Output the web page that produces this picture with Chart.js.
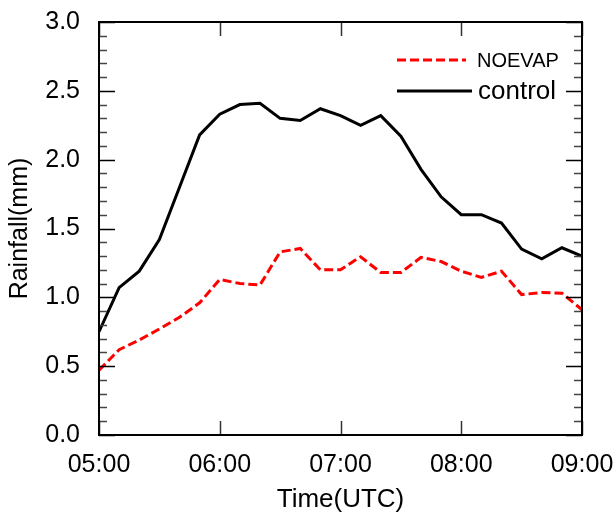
<!DOCTYPE html>
<html>
<head>
<meta charset="utf-8">
<script src="https://cdn.jsdelivr.net/npm/chart.js@4"></script>
<style>
    html, body { margin: 0; padding: 0; background: #fff; }
    #wrap { width: 616px; height: 514px; position: relative; }
</style>
</head>
<body>
<div id="wrap"><canvas id="rainChart"></canvas></div>
<script>
// Time axis (10-minute steps)
const times = ['05:00', '05:10', '05:20', '05:30', '05:40', '05:50',
               '06:00', '06:10', '06:20', '06:30', '06:40', '06:50',
               '07:00', '07:10', '07:20', '07:30', '07:40', '07:50',
               '08:00', '08:10', '08:20', '08:30', '08:40', '08:50',
               '09:00'];
const hourLabels = ['05:00', '06:00', '07:00', '08:00', '09:00'];

// Rainfall (mm)
const control = [0.75, 1.07, 1.19, 1.42, 1.80, 2.18, 2.33, 2.40, 2.41, 2.30, 2.285, 2.37, 2.32,
                 2.25, 2.32, 2.17, 1.93, 1.73, 1.60, 1.60, 1.54, 1.35, 1.28, 1.36, 1.30];
const noevap = [0.47, 0.62, 0.69, 0.77, 0.855, 0.96, 1.13, 1.10, 1.09, 1.33, 1.355, 1.20, 1.20,
                1.295, 1.18, 1.18, 1.29, 1.26, 1.19, 1.145, 1.19, 1.02, 1.035, 1.03, 0.91];

const yTicks = [0.0, 0.5, 1.0, 1.5, 2.0, 2.5, 3.0];
const FONT = "'Liberation Sans', Arial, Helvetica, sans-serif";

// Frame, inward tick marks and legend, NCL style
const framePlugin = {
    id: 'frame',
    afterDraw(chart) {
        const ctx = chart.ctx;
        const area = chart.chartArea;
        const x = chart.scales.x;
        const y = chart.scales.y;
        ctx.save();
        ctx.strokeStyle = '#000';

        // y ticks: major every 0.5, minor every 0.1, both sides
        ctx.lineWidth = 1.5;
        for (let i = 0; i <= 30; i++) {
            const v = i / 10;
            const py = Math.round(y.getPixelForValue(v)) + 0.5;
            const len = (i % 5 === 0) ? 16 : 8;
            ctx.strokeStyle = (i % 5 === 0) ? '#000' : '#444';
            ctx.beginPath();
            ctx.moveTo(area.left, py);
            ctx.lineTo(area.left + len, py);
            ctx.moveTo(area.right, py);
            ctx.lineTo(area.right - len, py);
            ctx.stroke();
        }

        // x ticks at each hour, bottom and top
        ctx.strokeStyle = '#333';
        hourLabels.forEach(h => {
            const px = Math.round(x.getPixelForValue(times.indexOf(h))) + 0.5;
            ctx.beginPath();
            ctx.moveTo(px, area.bottom);
            ctx.lineTo(px, area.bottom - 14);
            ctx.moveTo(px, area.top);
            ctx.lineTo(px, area.top + 14);
            ctx.stroke();
        });

        // frame
        ctx.strokeStyle = '#000';
        ctx.lineWidth = 2;
        ctx.strokeRect(area.left, area.top, area.right - area.left, area.bottom - area.top);

        // legend
        ctx.lineWidth = 3;
        ctx.strokeStyle = '#ff0000';
        ctx.setLineDash([9, 4]);
        ctx.beginPath();
        ctx.moveTo(397, 60);
        ctx.lineTo(466, 60);
        ctx.stroke();
        ctx.setLineDash([]);
        ctx.strokeStyle = '#000';
        ctx.beginPath();
        ctx.moveTo(397, 91);
        ctx.lineTo(472, 91);
        ctx.stroke();

        ctx.fillStyle = '#000';
        ctx.textBaseline = 'alphabetic';
        ctx.textAlign = 'left';
        ctx.font = '20px ' + FONT;
        ctx.fillText('NOEVAP', 477, 67);
        ctx.font = '26px ' + FONT;
        ctx.fillText('control', 478, 99);
        ctx.restore();
    }
};

new Chart(document.getElementById('rainChart'), {
    type: 'line',
    data: {
        labels: times,
        datasets: [{
            label: 'NOEVAP',
            data: noevap,
            borderColor: '#ff0000',
            borderWidth: 3,
            borderDash: [9, 4],
            pointRadius: 0,
            tension: 0,
            fill: false
        }, {
            label: 'control',
            data: control,
            borderColor: '#000000',
            borderWidth: 3,
            pointRadius: 0,
            tension: 0,
            fill: false
        }]
    },
    options: {
        responsive: true,
        maintainAspectRatio: false,
        animation: false,
        devicePixelRatio: 1,
        layout: { padding: { left: 0, right: 34, top: 22, bottom: 0 } },
        plugins: {
            legend: { display: false },
            tooltip: { enabled: false }
        },
        scales: {
            x: {
                type: 'category',
                offset: false,
                grid: { display: false, drawTicks: false },
                border: { display: false },
                ticks: {
                    autoSkip: false,
                    maxRotation: 0,
                    padding: 15,
                    color: '#000',
                    font: { family: FONT, size: 25 },
                    callback: function(value, index) {
                        const t = times[index];
                        return hourLabels.includes(t) ? t : '';
                    }
                },
                title: {
                    display: true,
                    text: 'Time(UTC)',
                    color: '#000',
                    font: { family: FONT, size: 26 },
                    padding: { top: 0, bottom: -1 }
                },
                afterFit(scale) {
                    scale.height = 79;
                    scale.paddingLeft = 0;
                    scale.paddingRight = 0;
                }
            },
            y: {
                min: 0,
                max: 3,
                grid: { display: false, drawTicks: false },
                border: { display: false },
                afterBuildTicks(scale) {
                    scale.ticks = yTicks.map(v => ({ value: v }));
                },
                ticks: {
                    padding: 19,
                    color: '#000',
                    font: { family: FONT, size: 25 },
                    callback: v => Number(v).toFixed(1)
                },
                title: {
                    display: true,
                    text: 'Rainfall(mm)',
                    color: '#000',
                    font: { family: FONT, size: 25 },
                    padding: { top: 5, bottom: 0 }
                },
                afterFit(scale) {
                    scale.width = 99;
                    scale.paddingTop = 0;
                    scale.paddingBottom = 0;
                }
            }
        }
    },
    plugins: [framePlugin]
});
</script>
</body>
</html>
